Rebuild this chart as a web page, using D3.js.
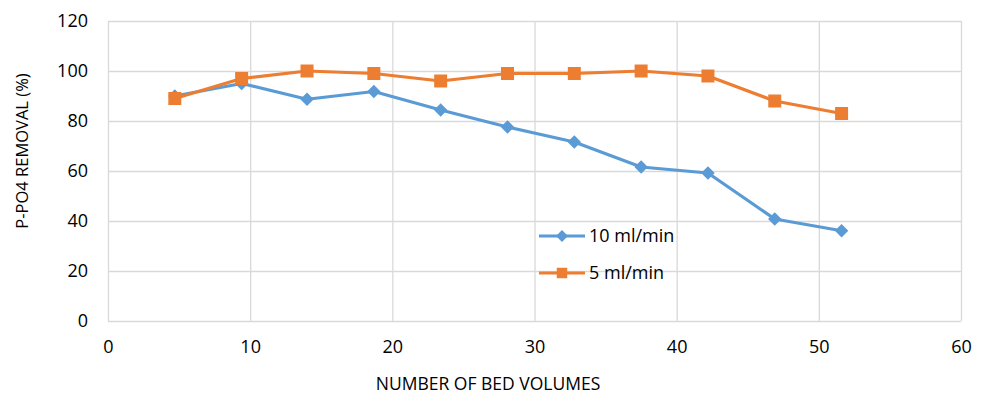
<!DOCTYPE html>
<html>
<head>
<meta charset="utf-8">
<script src="https://cdn.jsdelivr.net/npm/d3@7"></script>
<style>
  html, body { margin: 0; padding: 0; background: #fff; }
  svg { display: block; font-family: "Open Sans", sans-serif; }
</style>
</head>
<body>
<svg id="chart" width="984" height="394"></svg>
<script>
// Bed volumes passed through the column
const bedVolumes = [4.7, 9.4, 14.0, 18.7, 23.4, 28.1, 32.8, 37.5, 42.2, 46.9, 51.6];
// P-PO4 removal (%) at each flow rate
const removal10 = [90, 95, 88.7, 91.8, 84.4, 77.6, 71.6, 61.6, 59.2, 40.8, 36.1];
const removal5 = [89, 97, 100, 99, 96, 99, 99, 100, 98, 88, 83];
const seriesNames = ["10 ml/min", "5 ml/min"];
const xTicks = [0, 10, 20, 30, 40, 50, 60];
const yTicks = [0, 20, 40, 60, 80, 100, 120];

const colors = ["#5B9BD5", "#ED7D31"];
const svg = d3.select("#chart");
const m = { left: 108, right: 961, top: 21, bottom: 321 };

const x = d3.scaleLinear().domain([0, 60]).range([m.left, m.right]);
const y = d3.scaleLinear().domain([0, 120]).range([m.bottom, m.top]);

// gridlines
svg.append("g")
  .attr("transform", `translate(0,${m.bottom})`)
  .call(d3.axisBottom(x).tickValues(xTicks).tickSize(-(m.bottom - m.top)).tickFormat(""))
  .call(g => g.select(".domain").remove())
  .call(g => g.selectAll("line").attr("stroke", "#D9D9D9").attr("stroke-width", 1.3));
svg.append("g")
  .attr("transform", `translate(${m.left},0)`)
  .call(d3.axisLeft(y).tickValues(yTicks).tickSize(-(m.right - m.left)).tickFormat(""))
  .call(g => g.select(".domain").remove())
  .call(g => g.selectAll("line").attr("stroke", "#D9D9D9").attr("stroke-width", 1.3));

// tick labels
const xAxis = svg.append("g")
  .attr("transform", `translate(0,${m.bottom})`)
  .call(d3.axisBottom(x).tickValues(xTicks).tickSize(0).tickPadding(19).tickFormat(d3.format("d")));
xAxis.select(".domain").remove();
xAxis.selectAll("text").attr("font-size", 18).attr("fill", "#000").attr("font-family", "Open Sans");

const yAxis = svg.append("g")
  .attr("transform", `translate(${m.left},0)`)
  .call(d3.axisLeft(y).tickValues(yTicks).tickSize(0).tickPadding(20).tickFormat(d3.format("d")));
yAxis.select(".domain").remove();
yAxis.selectAll("text").attr("font-size", 18).attr("fill", "#000").attr("font-family", "Open Sans");

// axis titles
svg.append("text")
  .attr("x", 488).attr("y", 390)
  .attr("text-anchor", "middle")
  .attr("font-size", 17.5)
  .text("NUMBER OF BED VOLUMES");
svg.append("text")
  .attr("transform", "translate(28,151) rotate(-90)")
  .attr("text-anchor", "middle")
  .attr("font-size", 16.5)
  .text("P-PO4 REMOVAL (%)");

// series
const series = [removal10, removal5];
const line = d3.line().x((d, i) => x(bedVolumes[i])).y(d => y(d));
const diamond = d3.symbol().type(d3.symbolDiamond2);
const square = d3.symbol().type(d3.symbolSquare2);

series.forEach((vals, s) => {
  svg.append("path")
    .datum(vals)
    .attr("fill", "none")
    .attr("stroke", colors[s])
    .attr("stroke-width", 3.2)
    .attr("stroke-linejoin", "round")
    .attr("d", line);
  svg.append("g").selectAll("path")
    .data(vals)
    .join("path")
    .attr("transform", (d, i) => `translate(${x(bedVolumes[i])},${y(d)})`)
    .attr("d", s === 0 ? diamond.size(115)() : square.size(215)())
    .attr("fill", colors[s]);
});

// legend
const legend = svg.append("g");
seriesNames.forEach((name, s) => {
  const ly = 236 + s * 37;
  legend.append("line")
    .attr("x1", 539).attr("x2", 585).attr("y1", ly).attr("y2", ly)
    .attr("stroke", colors[s]).attr("stroke-width", 3.2);
  legend.append("path")
    .attr("transform", `translate(562,${ly})`)
    .attr("d", s === 0 ? diamond.size(90)() : square.size(140)())
    .attr("fill", colors[s]);
  legend.append("text")
    .attr("x", 589).attr("y", ly)
    .attr("dy", "0.36em")
    .attr("font-size", 18)
    .text(name);
});
</script>
</body>
</html>
